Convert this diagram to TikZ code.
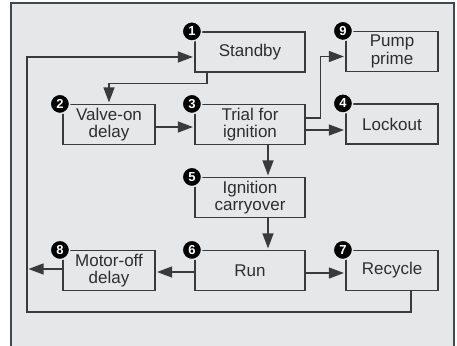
\documentclass[tikz,border=0pt]{standalone}
\usepackage{fontspec}
\setmainfont{Liberation Sans}
\usetikzlibrary{arrows.meta,calc}
\definecolor{bgc}{HTML}{E6E7E9}
\definecolor{framec}{HTML}{3D4B4B}
\definecolor{linec}{HTML}{3A3A3A}
\definecolor{textc}{HTML}{2E2E2E}
\tikzset{
  box/.style={draw=linec, line width=1.2pt, fill=bgc, minimum height=40pt, inner sep=0pt,
    align=center, text=textc, font=\fontsize{17}{17.5}\selectfont},
  bigbox/.style={box, minimum width=110pt},
  smallbox/.style={box, minimum width=92pt},
  num/.style={circle, fill=black, draw=bgc, line width=1.6pt, minimum size=19.5pt, inner sep=0pt,
    text=white, font=\bfseries\fontsize{13}{13}\selectfont},
  arr/.style={draw=linec, line width=1.2pt, -{Triangle[length=15pt,width=11pt]}, shorten >=1.5pt},
  ln/.style={draw=linec, line width=1.2pt}
}
\begin{document}
\begin{tikzpicture}[x=1pt,y=-1pt]
\useasboundingbox (0,0) rectangle (457,345);
\fill[white] (0,0) rectangle (457,345);
\fill[bgc] (11,3) rectangle (454,346);
\draw[framec, line width=1.3pt] (11,346) -- (11,3) -- (454,3) -- (454,346);

\node[bigbox] (sb) at (250,52) {Standby};
\node[smallbox] (vo) at (109,124.5) {Valve-on\\delay};
\node[bigbox] (tr) at (250,124.5) {Trial for\\ignition};
\node[smallbox] (pp) at (392,51.5) {Pump\\prime};
\node[smallbox] (lo) at (392,124) {Lockout};
\node[bigbox] (ig) at (250,197.5) {Ignition\\carryover};
\node[bigbox] (rn) at (250,270.5) {Run};
\node[smallbox] (rc) at (392,270.5) {Recycle};
\node[smallbox] (mo) at (109,270.5) {Motor-off\\delay};

\node[num] (n1) at ($(sb.north west)+(-2.5,0)$) {1};
\node[num] (n2) at ($(vo.north west)+(-2.5,0)$) {2};
\node[num] (n3) at ($(tr.north west)+(-2.5,0)$) {3};
\node[num] (n4) at ($(lo.north west)+(-2.5,0)$) {4};
\node[num] (n5) at ($(ig.north west)+(-2.5,0)$) {5};
\node[num] (n6) at ($(rn.north west)+(-2.5,0)$) {6};
\node[num] (n7) at ($(rc.north west)+(-2.5,0)$) {7};
\node[num] (n8) at ($(mo.north west)+(-2.5,0)$) {8};
\node[num] (n9) at ($(pp.north west)+(-2.5,0)$) {9};

\coordinate (sbout) at ($(sb.south)+(-43,0)$);
\draw[arr] (sbout) -- ++(0,11) -| (vo.north);
\coordinate (voout) at ($(vo.east)+(0,2.5)$);
\draw[arr] (voout) -- (tr.west |- voout);
\coordinate (trpp) at ($(tr.east)+(0,-6.5)$);
\coordinate (ppin) at ($(pp.west)+(0,5)$);
\draw[arr] (trpp) -- ++(15,0) |- (ppin);
\coordinate (trlo) at ($(tr.east)+(0,5.5)$);
\draw[arr] (trlo) -- (lo.west |- trlo);
\draw[arr] ($(tr.south)+(18,0)$) -- ($(ig.north)+(18,0)$);
\draw[arr] ($(ig.south)+(18,0)$) -- ($(rn.north)+(18,0)$);
\coordinate (rnrc) at ($(rn.east)+(0,2.5)$);
\draw[arr] (rnrc) -- (rc.west |- rnrc);
\coordinate (rnmo) at ($(rn.west)+(0,1.5)$);
\draw[arr] (rnmo) -- (mo.east |- rnmo);
\coordinate (moout) at ($(mo.west)+(0,-1.5)$);
\coordinate (moend) at (27,269);
\draw[arr] (moout) -- (moend |- moout);
\coordinate (rcout) at ($(rc.south)+(19,0)$);
\coordinate (lp) at (27,312);
\coordinate (sbin) at ($(sb.west)+(0,5)$);
\draw[arr] (rcout) |- (lp) |- (sbin);
\end{tikzpicture}
\end{document}
